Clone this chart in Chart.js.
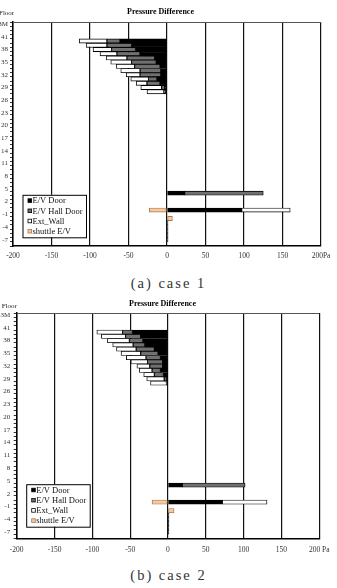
<!DOCTYPE html>
<html>
<head>
<meta charset="utf-8">
<script src="https://cdn.jsdelivr.net/npm/chart.js@4.4.1/dist/chart.umd.min.js"></script>
<style>
  html, body { margin: 0; padding: 0; background: #fff; }
  body { width: 337px; height: 588px; position: relative; overflow: hidden; }
  canvas { position: absolute; left: 0; }
  #chart1 { top: 0; }
  #chart2 { top: 290px; }
  .caption {
    position: absolute; left: 0; width: 337px; text-align: center;
    font-family: "Liberation Serif", serif; font-size: 14.5px; line-height: 17px;
    letter-spacing: 2px; color: #333; -webkit-font-smoothing: antialiased;
  }
</style>
</head>
<body>
<canvas id="chart1" width="337" height="270"></canvas>
<div class="caption" style="top:274.5px">(a) case 1</div>
<canvas id="chart2" width="337" height="272"></canvas>
<div class="caption" style="top:567px">(b) case 2</div>
<script>
// floors on the category axis, top to bottom
const floorLabels = ['43M','43','42','41','40','39','38','37','36','35','34','33','32','31','30',
  '29','28','27','26','25','24','23','22','21','20','19','18','17','16','15','14','13','12','11',
  '10','9','8','7','6','5','4','3','2','1','0','-1','-2','-3','-4','-5','-6','-7','-8'];

// floors that carry a bar
const barFloors = ['40','39','38','37','36','35','34','33','32','31','30','29','28',
  '4','0','-2','-3','-4','-5','-6','-7'];

const seriesNames = ['E/V Door', 'E/V Hall Door', 'Ext_Wall', 'shuttle E/V'];
const xTicksLast = ['200Pa', '200 Pa'];

// case 1 (Pa)
const case1Door    = [-61,-46,-41,-35,-16,-14,-9,-8,-8,-13,-9,-3,-2, 23, 97, null, 1.3,1.3,1.3,1.3,1.3];
const case1Hall    = [-17,-32,-31,-30,-36,-32,-33,-27,-27,-11,-17,-4,-2, 102, null, null, null,null,null,null,null];
const case1Wall    = [-36,-27,-24,-22,-27,-27,-24,-25,-18,-23,-14,-27,-22, null, 63, null, null,null,null,null,null];
const case1Shuttle = [null,null,null,null,null,null,null,null,null,null,null,null,null, null, -23, 7, null,null,null,null,null];

// case 2 (Pa)
const case2Door    = [-47,-36,-33,-31,-18,-13,-10,-7,-7,-10,-6,-2,-1, 19, 72, null, 1.3,1.3,1.3,1.3,1.3];
const case2Hall    = [-13,-20,-18,-15,-24,-23,-19,-20,-17,-11,-12,-3,-1, 83, null, null, null,null,null,null,null];
const case2Wall    = [-34,-32,-29,-27,-26,-26,-26,-22,-17,-17,-14,-23,-21, null, 59, null, null,null,null,null,null];
const case2Shuttle = [null,null,null,null,null,null,null,null,null,null,null,null,null, null, -21, 8, null,null,null,null,null];

const fillColors = ['#000000', '#707070', '#ffffff', '#f6c9a2'];
const edgeColors = ['#000000', '#000000', '#000000', '#a8784e'];

const pick = arr => floorLabels.map(f => {
  const i = barFloors.indexOf(f);
  return i < 0 ? null : arr[i];
});

// top border, "Floor" label and the boxed legend inside the plot
const framePlugin = {
  id: 'frame',
  afterDraw(chart, args, opts) {
    const { ctx, chartArea: a } = chart;
    ctx.save();
    ctx.strokeStyle = '#555';
    ctx.lineWidth = 1;
    ctx.beginPath();
    ctx.moveTo(a.left, a.top + 0.5);
    ctx.lineTo(a.right, a.top + 0.5);
    ctx.stroke();

    ctx.fillStyle = '#222';
    ctx.font = '7px "Liberation Serif"';
    ctx.textBaseline = 'middle';
    ctx.textAlign = 'left';
    ctx.fillText('Floor', opts.floorX, opts.floorY);

    const bw = 63.5, bh = 42.5;
    const bx = a.left + 9.5;
    const by = a.bottom - opts.legendBottom - bh;
    ctx.fillStyle = '#fff';
    ctx.fillRect(bx, by, bw, bh);
    ctx.strokeStyle = '#000';
    ctx.strokeRect(bx + 0.5, by + 0.5, bw, bh);
    ctx.font = '8.5px "Liberation Serif"';
    chart.data.datasets.forEach((ds, i) => {
      const cy = by + 6 + i * 10.2;
      ctx.fillStyle = ds.backgroundColor;
      ctx.fillRect(bx + 5.5, cy - 2, 3.6, 3.6);
      ctx.strokeStyle = ds.borderColor;
      ctx.lineWidth = 0.8;
      ctx.strokeRect(bx + 5.5, cy - 2, 3.6, 3.6);
      ctx.fillStyle = '#111';
      ctx.fillText(ds.label, bx + 10, cy + 0.3);
    });
    ctx.restore();
  }
};

function makeChart(id, door, hall, wall, shuttle, cfg) {
  const values = [door, hall, wall, shuttle];
  return new Chart(document.getElementById(id), {
    type: 'bar',
    data: {
      labels: floorLabels,
      datasets: values.map((v, i) => ({
        label: seriesNames[i],
        data: pick(v),
        backgroundColor: fillColors[i],
        borderColor: edgeColors[i],
        borderWidth: 0.9,
        borderSkipped: false,
        barPercentage: 1,
        categoryPercentage: 1,
      })),
    },
    options: {
      indexAxis: 'y',
      responsive: false,
      animation: false,
      devicePixelRatio: 1,
      layout: { padding: { left: 0, right: cfg.padRight, top: 0, bottom: 0 } },
      plugins: {
        legend: { display: false },
        tooltip: { enabled: false },
        title: {
          display: true,
          text: 'Pressure Difference',
          color: '#000',
          font: { family: 'Liberation Serif', size: 8, weight: 'bold' },
          padding: cfg.titlePad,
        },
        frame: cfg.frame,
      },
      scales: {
        x: {
          type: 'linear',
          stacked: true,
          min: -200,
          max: 200,
          ticks: {
            stepSize: 50,
            color: '#333',
            maxRotation: 0,
            padding: cfg.xPad,
            font: { family: 'Liberation Serif', size: 7.5 },
            callback: v => (v === 200 ? cfg.lastTick : v),
          },
          grid: { color: '#111', lineWidth: 1.2, drawTicks: false },
          border: { display: true, color: '#000', width: 1.5 },
          afterFit: s => { s.height = cfg.xHeight; },
        },
        y: {
          type: 'category',
          stacked: true,
          ticks: {
            autoSkip: false,
            color: '#333',
            padding: cfg.yPad,
            font: { family: 'Liberation Serif', size: 7 },
            callback: function (v, i) { return i % 3 === 0 ? this.getLabelForValue(v) : ''; },
          },
          grid: { drawOnChartArea: false, drawTicks: true, tickLength: 3, color: '#000', lineWidth: 0.8 },
          border: { display: true, color: '#000', width: 1.5 },
          afterFit: s => { s.width = cfg.yWidth; },
        },
      },
    },
    plugins: [framePlugin],
  });
}

makeChart('chart1', case1Door, case1Hall, case1Wall, case1Shuttle, {
  padRight: 16, xHeight: 24, yWidth: 13, xPad: 6, yPad: 2,
  titlePad: { top: 7, bottom: 5.4 }, lastTick: xTicksLast[0],
  frame: { floorX: -1, floorY: 13, legendBottom: 8.7 },
});

makeChart('chart2', case2Door, case2Hall, case2Wall, case2Shuttle, {
  padRight: 12, xHeight: 23.7, yWidth: 16.7, xPad: 7.5, yPad: 3.5,
  titlePad: { top: 9.2, bottom: 4.2 }, lastTick: xTicksLast[1],
  frame: { floorX: 1.7, floorY: 16, legendBottom: 11.6 },
});
</script>
</body>
</html>
